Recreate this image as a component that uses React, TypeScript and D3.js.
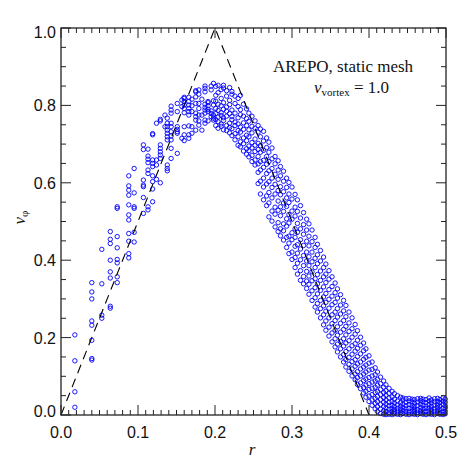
import React from 'react';
import * as d3 from 'd3';

// radial columns of cells: [r, v_phi values]
const innerCols: [number, number[]][] = [
  [0.018, [0.02, 0.06, 0.14, 0.207]],
  [0.040, [0.142, 0.146, 0.193, 0.232, 0.243, 0.300, 0.318, 0.342]],
  [0.053, [0.250, 0.258, 0.339, 0.428]],
  [0.064, [0.276, 0.281, 0.354, 0.370, 0.400, 0.443, 0.454, 0.474]],
  [0.073, [0.342, 0.357, 0.393, 0.402, 0.432, 0.461, 0.538, 0.534]],
  [0.088, [0.406, 0.417, 0.449, 0.469, 0.504, 0.517, 0.543, 0.568, 0.581, 0.592, 0.618]],
  [0.095, [0.447, 0.472, 0.534, 0.538, 0.574, 0.637]],
  [0.107, [0.521, 0.562, 0.590, 0.594, 0.607, 0.698, 0.686]],
  [0.113, [0.530, 0.538, 0.624, 0.633, 0.669, 0.661, 0.687, 0.652]],
  [0.119, [0.551, 0.584, 0.603, 0.618, 0.642, 0.659, 0.650, 0.724, 0.727]],
  [0.124, [0.609, 0.646, 0.659, 0.754]],
  [0.129, [0.600, 0.663, 0.672, 0.680, 0.689, 0.698, 0.760, 0.764]],
  [0.135, [0.745, 0.775]],
  [0.138, [0.631, 0.637, 0.646, 0.711, 0.719, 0.728, 0.736, 0.745, 0.754, 0.767]],
  [0.143, [0.663, 0.689, 0.711, 0.721, 0.732, 0.745, 0.754, 0.780, 0.788, 0.798]],
  [0.151, [0.676, 0.728, 0.738, 0.745, 0.784, 0.805, 0.732]],
  [0.157, [0.715, 0.797, 0.814]],
  [0.160, [0.709, 0.724, 0.745, 0.781, 0.792, 0.801, 0.810, 0.818, 0.821]],
  [0.166, [0.715, 0.724, 0.747, 0.775, 0.784, 0.792, 0.801, 0.810, 0.821]],
  [0.170, [0.728, 0.745, 0.784, 0.799, 0.816]],
  [0.175, [0.736, 0.762, 0.771, 0.780, 0.805, 0.822, 0.835, 0.838]],
  [0.179, [0.749, 0.760, 0.775, 0.792, 0.805, 0.829, 0.840]],
  [0.183, [0.736, 0.775, 0.816]],
  [0.187, [0.754, 0.762, 0.780, 0.788, 0.795, 0.803, 0.835, 0.844, 0.850]],
  [0.191, [0.760, 0.784, 0.790, 0.799, 0.807, 0.810]],
  [0.195, [0.771, 0.779, 0.786, 0.840, 0.850]],
  [0.198, [0.762, 0.767, 0.775, 0.801, 0.812, 0.857]],
];

const outerCols: [number, number[]][] = [
  [0.201, [0.748, 0.763, 0.779, 0.792, 0.811, 0.826, 0.849]],
  [0.204, [0.741, 0.758, 0.770, 0.787, 0.803, 0.833, 0.852]],
  [0.208, [0.746, 0.752, 0.774, 0.781, 0.799, 0.818, 0.841]],
  [0.211, [0.737, 0.761, 0.768, 0.790, 0.807, 0.845, 0.852]],
  [0.215, [0.735, 0.748, 0.772, 0.785, 0.796, 0.824, 0.838]],
  [0.219, [0.729, 0.743, 0.754, 0.779, 0.802, 0.813, 0.846]],
  [0.222, [0.722, 0.740, 0.763, 0.771, 0.788, 0.829, 0.836]],
  [0.226, [0.711, 0.727, 0.748, 0.757, 0.780, 0.805, 0.824]],
  [0.230, [0.697, 0.719, 0.735, 0.752, 0.768, 0.797, 0.818]],
  [0.233, [0.693, 0.706, 0.731, 0.744, 0.776, 0.789, 0.826]],
  [0.237, [0.682, 0.701, 0.716, 0.738, 0.755, 0.772, 0.803]],
  [0.241, [0.674, 0.688, 0.709, 0.723, 0.748, 0.766, 0.791]],
  [0.244, [0.667, 0.683, 0.695, 0.719, 0.737, 0.759, 0.780]],
  [0.248, [0.655, 0.671, 0.690, 0.704, 0.729, 0.746, 0.772]],
  [0.252, [0.646, 0.659, 0.681, 0.697, 0.713, 0.741, 0.760]],
  [0.256, [0.598, 0.627, 0.649, 0.668, 0.686, 0.702, 0.731, 0.748]],
  [0.259, [0.571, 0.604, 0.633, 0.655, 0.679, 0.696, 0.719, 0.739]],
  [0.263, [0.556, 0.589, 0.612, 0.640, 0.658, 0.684, 0.708, 0.733]],
  [0.267, [0.541, 0.566, 0.597, 0.624, 0.648, 0.668, 0.691, 0.716]],
  [0.270, [0.512, 0.548, 0.575, 0.603, 0.631, 0.655, 0.679, 0.705]],
  [0.274, [0.501, 0.527, 0.561, 0.588, 0.612, 0.637, 0.662, 0.690]],
  [0.278, [0.486, 0.519, 0.537, 0.571, 0.596, 0.622, 0.649, 0.668]],
  [0.282, [0.474, 0.497, 0.529, 0.553, 0.580, 0.609, 0.633, 0.657]],
  [0.285, [0.463, 0.481, 0.515, 0.538, 0.569, 0.590, 0.618, 0.642]],
  [0.289, [0.452, 0.476, 0.494, 0.526, 0.548, 0.577, 0.604, 0.630]],
  [0.293, [0.433, 0.459, 0.488, 0.507, 0.539, 0.561, 0.588, 0.612]],
  [0.296, [0.417, 0.444, 0.462, 0.496, 0.518, 0.549, 0.571, 0.601]],
  [0.300, [0.402, 0.421, 0.453, 0.471, 0.506, 0.527, 0.558, 0.589]],
  [0.304, [0.381, 0.407, 0.436, 0.459, 0.481, 0.514, 0.537, 0.570]],
  [0.307, [0.364, 0.392, 0.418, 0.440, 0.472, 0.495, 0.526, 0.556]],
  [0.311, [0.348, 0.373, 0.401, 0.429, 0.453, 0.481, 0.509, 0.541]],
  [0.315, [0.339, 0.358, 0.386, 0.412, 0.438, 0.467, 0.492, 0.523]],
  [0.319, [0.327, 0.346, 0.371, 0.398, 0.421, 0.449, 0.478, 0.506]],
  [0.322, [0.312, 0.338, 0.359, 0.386, 0.409, 0.437, 0.462, 0.494]],
  [0.326, [0.296, 0.321, 0.347, 0.370, 0.396, 0.421, 0.448, 0.478]],
  [0.330, [0.279, 0.303, 0.329, 0.352, 0.381, 0.405, 0.433, 0.459]],
  [0.333, [0.266, 0.288, 0.313, 0.339, 0.363, 0.391, 0.414, 0.441]],
  [0.337, [0.251, 0.275, 0.296, 0.322, 0.348, 0.372, 0.398, 0.425]],
  [0.341, [0.233, 0.259, 0.282, 0.305, 0.331, 0.357, 0.381, 0.408]],
  [0.344, [0.219, 0.243, 0.268, 0.291, 0.314, 0.342, 0.364, 0.390]],
  [0.348, [0.204, 0.227, 0.251, 0.276, 0.299, 0.324, 0.351, 0.373]],
  [0.352, [0.189, 0.212, 0.236, 0.259, 0.285, 0.307, 0.332, 0.357]],
  [0.356, [0.176, 0.197, 0.219, 0.244, 0.266, 0.291, 0.316, 0.341]],
  [0.359, [0.163, 0.183, 0.206, 0.228, 0.253, 0.275, 0.302, 0.326]],
  [0.363, [0.150, 0.171, 0.190, 0.214, 0.237, 0.261, 0.284, 0.311]],
  [0.367, [0.137, 0.156, 0.178, 0.197, 0.221, 0.244, 0.269, 0.296]],
  [0.370, [0.124, 0.143, 0.164, 0.186, 0.207, 0.229, 0.254, 0.283]],
  [0.374, [0.113, 0.131, 0.149, 0.171, 0.192, 0.216, 0.238, 0.266]],
  [0.378, [0.101, 0.119, 0.138, 0.157, 0.179, 0.201, 0.223, 0.251]],
  [0.382, [0.091, 0.106, 0.126, 0.143, 0.165, 0.184, 0.209, 0.234]],
  [0.385, [0.079, 0.097, 0.112, 0.132, 0.151, 0.172, 0.193, 0.218]],
  [0.389, [0.068, 0.083, 0.101, 0.119, 0.137, 0.158, 0.180, 0.201]],
  [0.393, [0.057, 0.071, 0.089, 0.106, 0.124, 0.144, 0.166, 0.186]],
  [0.396, [0.046, 0.061, 0.077, 0.093, 0.111, 0.129, 0.149, 0.171]],
  [0.400, [0.035, 0.049, 0.066, 0.081, 0.097, 0.116, 0.134, 0.153]],
  [0.404, [0.025, 0.039, 0.053, 0.069, 0.085, 0.101, 0.118, 0.137]],
  [0.408, [0.016, 0.030, 0.043, 0.058, 0.072, 0.088, 0.104, 0.122]],
  [0.411, [0.009, 0.022, 0.035, 0.048, 0.061, 0.077, 0.092, 0.111]],
  [0.415, [0.004, 0.015, 0.027, 0.040, 0.053, 0.066, 0.081, 0.098]],
  [0.419, [0.002, 0.011, 0.022, 0.033, 0.045, 0.058, 0.072, 0.088]],
  [0.422, [0.001, 0.009, 0.018, 0.028, 0.039, 0.051, 0.063, 0.078]],
  [0.426, [0.002, 0.007, 0.015, 0.024, 0.033, 0.044, 0.056, 0.069]],
  [0.430, [0.001, 0.009, 0.016, 0.025, 0.035, 0.047, 0.061]],
  [0.433, [0.003, 0.008, 0.014, 0.022, 0.031, 0.041, 0.055]],
  [0.437, [0.002, 0.010, 0.017, 0.026, 0.036, 0.050]],
  [0.441, [0.001, 0.007, 0.015, 0.023, 0.032, 0.046]],
  [0.444, [0.004, 0.011, 0.019, 0.028, 0.039, 0.044]],
  [0.448, [0.002, 0.009, 0.016, 0.024, 0.033, 0.042]],
  [0.452, [0.001, 0.008, 0.017, 0.027, 0.036, 0.043]],
  [0.456, [0.003, 0.010, 0.018, 0.025, 0.034, 0.041]],
  [0.459, [0.002, 0.009, 0.015, 0.022, 0.031, 0.040]],
  [0.463, [0.001, 0.007, 0.014, 0.024, 0.033, 0.042]],
  [0.467, [0.004, 0.011, 0.019, 0.028, 0.037, 0.043]],
  [0.470, [0.002, 0.008, 0.016, 0.025, 0.034, 0.041]],
  [0.474, [0.001, 0.009, 0.017, 0.023, 0.032, 0.040]],
  [0.478, [0.003, 0.010, 0.018, 0.027, 0.036, 0.044]],
  [0.481, [0.002, 0.008, 0.014, 0.022, 0.031, 0.039]],
  [0.485, [0.001, 0.009, 0.016, 0.025, 0.034, 0.042]],
  [0.489, [0.004, 0.011, 0.019, 0.026, 0.035, 0.043]],
  [0.492, [0.002, 0.007, 0.015, 0.023, 0.032, 0.040]],
  [0.496, [0.001, 0.008, 0.017, 0.028, 0.036, 0.044]],
  [0.499, [0.003, 0.010, 0.018, 0.024, 0.033, 0.041]],
];

// analytic initial profile (triangle)
const exactR = [0, 0.2, 0.4];
const exactV = [0, 1.0, 0];

const xTicks = [0, 0.1, 0.2, 0.3, 0.4, 0.5];
const yTicks = [0, 0.2, 0.4, 0.6, 0.8, 1.0];

const W = 472, H = 472;
const m = { left: 61, right: 26, top: 28, bottom: 57 };

export default function App() {
  const x = d3.scaleLinear().domain([0, 0.5]).range([m.left, W - m.right]);
  const y = d3.scaleLinear().domain([0, 1]).range([H - m.bottom, m.top]);

  const pts: [number, number][] = [];
  [...innerCols, ...outerCols].forEach(([r, vs]) => vs.forEach(v => pts.push([r, v])));

  const line = d3.line<number>().x((d, i) => x(exactR[i])).y(d => y(d));

  const xMinor = d3.range(0, 51).map(i => i / 100);
  const yMinor = d3.range(0, 21).map(i => i / 20);
  const x0 = m.left, x1 = W - m.right, y0 = H - m.bottom, y1 = m.top;
  const ax = '#222';
  const sans = 'Liberation Sans, Arial, Helvetica, sans-serif';
  const serif = 'Liberation Serif, Times New Roman, serif';

  return (
    <svg width={W} height={H} style={{ position: 'absolute', left: 0, top: 0, background: '#fff' }}>
      <g fill="none" stroke="#0000ff" strokeWidth={0.9}>
        {pts.map((p, i) => (
          <circle key={i} cx={x(p[0])} cy={y(p[1])} r={2.2} />
        ))}
      </g>
      <path d={line(exactV) || ''} fill="none" stroke="#000" strokeWidth={1.1} strokeDasharray="9,6" />

      <g stroke={ax} strokeWidth={1}>
        {xMinor.map((t, i) => {
          const len = i % 10 === 0 ? 10 : 5;
          return (
            <g key={'x' + i}>
              <line x1={x(t)} x2={x(t)} y1={y0} y2={y0 - len} />
              <line x1={x(t)} x2={x(t)} y1={y1} y2={y1 + len} />
            </g>
          );
        })}
        {yMinor.map((t, i) => {
          const len = i % 4 === 0 ? 10 : 5;
          return (
            <g key={'y' + i}>
              <line x1={x0} x2={x0 + len} y1={y(t)} y2={y(t)} />
              <line x1={x1} x2={x1 - len} y1={y(t)} y2={y(t)} />
            </g>
          );
        })}
      </g>
      <rect x={x0} y={y1} width={x1 - x0} height={y0 - y1} fill="none" stroke={ax} strokeWidth={1.3} />

      <g fontFamily={sans} fontSize={16} fill="#111">
        {xTicks.map(t => (
          <text key={t} x={x(t)} y={y0 + 23} textAnchor="middle">{t.toFixed(1)}</text>
        ))}
        {yTicks.map(t => (
          <text key={t} x={x0 - 5} y={y(t) + 6 + (t === 1 ? 4 : t === 0 ? -4 : 0)} textAnchor="end">{t.toFixed(1)}</text>
        ))}
      </g>

      <g fontFamily={serif} fill="#111">
        <text x={252} y={455} fontSize={17} fontStyle="italic" textAnchor="middle">r</text>
        <text transform={`translate(25,${y(0.51)}) rotate(-90)`} fontSize={17} textAnchor="middle">
          <tspan fontStyle="italic">v</tspan>
          <tspan fontSize={11} dy={3}>φ</tspan>
        </text>
        <text x={343} y={72} fontSize={17} textAnchor="middle">AREPO, static mesh</text>
        <text x={314} y={93} fontSize={17}>
          <tspan fontStyle="italic">v</tspan>
          <tspan fontSize={11} dy={3}>vortex</tspan>
          <tspan dy={-3}> = 1.0</tspan>
        </text>
      </g>
    </svg>
  );
}
